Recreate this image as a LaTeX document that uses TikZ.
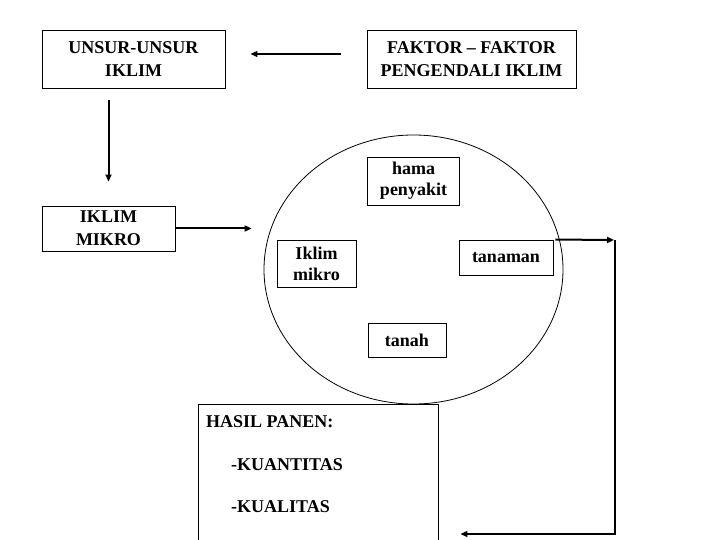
\documentclass[tikz,border=0pt]{standalone}
\usepackage{fontspec}
\setmainfont{Liberation Serif}
\usetikzlibrary{arrows.meta,shapes.geometric}
\begin{document}
\begin{tikzpicture}[x=1pt,y=-1pt,
  box/.style={draw,line width=0.9pt,rectangle,inner sep=0pt,align=center,
    font=\fontsize{18}{23}\selectfont\bfseries},
  ibox/.style={box,font=\fontsize{18}{21}\selectfont\bfseries},
  txt/.style={inner sep=0pt,font=\fontsize{18}{21}\selectfont\bfseries},
  arr/.style={line width=2pt,-{Triangle[length=7pt,width=6pt]}},
  ln/.style={line width=2pt}]
\useasboundingbox (0,0) rectangle (720,540);
% top boxes
\node[box,minimum width=183pt,minimum height=58pt] (unsur) at (133.5,59) {UNSUR-UNSUR\\IKLIM};
\node[box,minimum width=209pt,minimum height=58pt] (faktor) at (471.5,59) {FAKTOR -- FAKTOR\\PENGENDALI IKLIM};
\node[box,minimum width=133pt,minimum height=45pt] (mikro) at (108.5,228.5) {IKLIM\\MIKRO};
% circle
\node[draw,ellipse,line width=0.8pt,inner sep=0pt,minimum width=299pt,minimum height=269pt] (circ) at (413.5,269.5) {};
\node[ibox,minimum width=92pt,minimum height=48pt] (hama) at (413.5,181) {hama\\penyakit};
\node[ibox,minimum width=79pt,minimum height=47pt] (imikro) at (316.5,263.5) {Iklim\\mikro};
\node[ibox,minimum width=94pt,minimum height=35pt] (tanaman) at (506,257.5) {tanaman};
\node[ibox,minimum width=78pt,minimum height=34pt] (tanah) at (407,340) {tanah};
% hasil box
\node[draw,line width=0.9pt,inner sep=0pt,minimum width=240pt,minimum height=156pt] (hasil) at (318,482) {};
\node[txt,anchor=base west] (h1) at (206,427) {HASIL PANEN:};
\node[txt,anchor=base west] (h2) at (231,470) {-KUANTITAS};
\node[txt,anchor=base west] (h3) at (231,512) {-KUALITAS};
% connectors
\draw[arr,shorten <=26pt,shorten >=25pt] ([yshift=5pt]faktor.west) -- ([yshift=5pt]unsur.east);
\draw[arr,shorten <=12pt,shorten >=24pt] (unsur.south -| mikro.north) -- (mikro.north);
\draw[arr,shorten >=12pt] (mikro.east) -- (mikro.east -| circ.west);
\coordinate (rc) at (615,240);
\coordinate (rb) at (615,534);
\draw[arr,shorten >=1pt] ([xshift=2pt]tanaman.north east) -- (rc);
\draw[arr,shorten >=22pt] (rc) -- (rb) -- (rb -| hasil.east);
\end{tikzpicture}
\end{document}
